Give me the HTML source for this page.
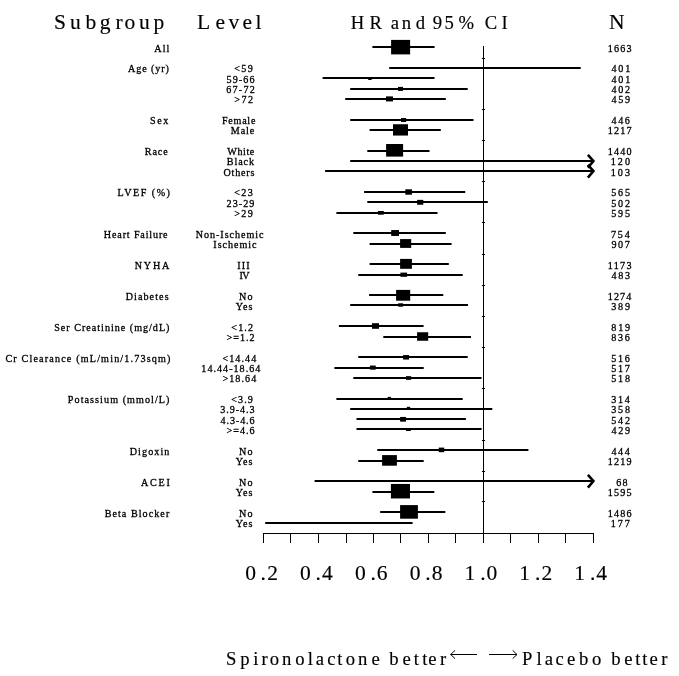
<!DOCTYPE html>
<html><head><meta charset="utf-8"><title>Forest plot</title>
<style>
html,body{margin:0;padding:0;background:#fff;}
body{width:679px;height:676px;overflow:hidden;}
svg text{stroke:#000;stroke-width:0.15px;}
svg text{white-space:pre;}
svg{display:block;will-change:transform;font-family:"Liberation Serif",serif;fill:#000;}
svg text.s{font-size:10.1px;stroke:#000;stroke-width:0.3px;}
.b{font-size:22px;letter-spacing:3.7px;}
.m{font-size:18px;letter-spacing:3.35px;}
.a{font-size:22px;letter-spacing:2.9px;}
</style></head><body>
<svg width="679" height="676" viewBox="0 0 679 676">
<rect width="679" height="676" fill="#fff"/>
<text font-size="21.5" x="54.02 70.02 85.48 99.72 115.45 124.62 139.12 153.52" y="29.1">Subgroup</text>
<text font-size="21.5" x="196.97 215.48 228.48 242.48 255.56" y="29.1">Level</text>
<text font-size="18.67" x="350.86 369.57 378.90 390.71 401.71 415.71 425.04 432.66 444.40 458.47 467.81 484.66 501.48" y="28.9">HR and 95% CI</text>
<text font-size="21.5" x="609.07" y="29.2">N</text>
<g stroke="#000" stroke-width="1" fill="none">
<line x1="483.5" y1="46" x2="483.5" y2="543"/>
<line x1="481.9" y1="58.5" x2="485.1" y2="58.5" stroke-width="1"/>
<line x1="481.9" y1="109.5" x2="485.1" y2="109.5" stroke-width="1"/>
<line x1="481.9" y1="140.5" x2="485.1" y2="140.5" stroke-width="1"/>
<line x1="481.9" y1="181.5" x2="485.1" y2="181.5" stroke-width="1"/>
<line x1="481.9" y1="222.5" x2="485.1" y2="222.5" stroke-width="1"/>
<line x1="481.9" y1="254.5" x2="485.1" y2="254.5" stroke-width="1"/>
<line x1="481.9" y1="285.5" x2="485.1" y2="285.5" stroke-width="1"/>
<line x1="481.9" y1="316.5" x2="485.1" y2="316.5" stroke-width="1"/>
<line x1="481.9" y1="347.5" x2="485.1" y2="347.5" stroke-width="1"/>
<line x1="481.9" y1="388.5" x2="485.1" y2="388.5" stroke-width="1"/>
<line x1="481.9" y1="440.5" x2="485.1" y2="440.5" stroke-width="1"/>
<line x1="481.9" y1="471.5" x2="485.1" y2="471.5" stroke-width="1"/>
<line x1="481.9" y1="501.5" x2="485.1" y2="501.5" stroke-width="1"/>
<line x1="263" y1="533.5" x2="594" y2="533.5"/>
<line x1="263.5" y1="533" x2="263.5" y2="543"/>
<line x1="290.5" y1="533" x2="290.5" y2="543"/>
<line x1="318.5" y1="533" x2="318.5" y2="543"/>
<line x1="346.5" y1="533" x2="346.5" y2="543"/>
<line x1="373.5" y1="533" x2="373.5" y2="543"/>
<line x1="400.5" y1="533" x2="400.5" y2="543"/>
<line x1="428.5" y1="533" x2="428.5" y2="543"/>
<line x1="455.5" y1="533" x2="455.5" y2="543"/>
<line x1="483.5" y1="533" x2="483.5" y2="543"/>
<line x1="510.5" y1="533" x2="510.5" y2="543"/>
<line x1="538.5" y1="533" x2="538.5" y2="543"/>
<line x1="565.5" y1="533" x2="565.5" y2="543"/>
<line x1="593.5" y1="533" x2="593.5" y2="543"/>
</g>
<g stroke="#000" stroke-width="2" fill="none">
<line x1="372.4" y1="47.0" x2="434.6" y2="47.0"/>
<line x1="389.2" y1="68.0" x2="580.7" y2="68.0"/>
<line x1="322.6" y1="78.0" x2="434.5" y2="78.0"/>
<line x1="350.2" y1="89.0" x2="467.7" y2="89.0"/>
<line x1="345.2" y1="99.0" x2="445.8" y2="99.0"/>
<line x1="350.2" y1="120.0" x2="473.5" y2="120.0"/>
<line x1="369.6" y1="130.0" x2="440.8" y2="130.0"/>
<line x1="367.3" y1="151.0" x2="429.5" y2="151.0"/>
<line x1="350.2" y1="161.0" x2="593.5" y2="161.0"/>
<polyline points="587.9,154.8 593.4,161.0 587.9,167.6" stroke-width="2.6" stroke-linejoin="miter"/>
<line x1="325.1" y1="171.0" x2="593.5" y2="171.0"/>
<polyline points="587.9,164.8 593.4,171.0 587.9,177.6" stroke-width="2.6" stroke-linejoin="miter"/>
<line x1="364.1" y1="192.0" x2="465.2" y2="192.0"/>
<line x1="367.3" y1="202.0" x2="487.8" y2="202.0"/>
<line x1="336.4" y1="213.0" x2="437.5" y2="213.0"/>
<line x1="353.3" y1="233.0" x2="445.8" y2="233.0"/>
<line x1="369.6" y1="244.0" x2="451.6" y2="244.0"/>
<line x1="369.6" y1="264.0" x2="448.8" y2="264.0"/>
<line x1="358.3" y1="275.0" x2="462.7" y2="275.0"/>
<line x1="369.1" y1="295.0" x2="443.3" y2="295.0"/>
<line x1="350.2" y1="305.0" x2="468.0" y2="305.0"/>
<line x1="338.9" y1="326.0" x2="423.6" y2="326.0"/>
<line x1="383.3" y1="337.0" x2="471.0" y2="337.0"/>
<line x1="358.3" y1="357.0" x2="467.7" y2="357.0"/>
<line x1="334.4" y1="368.0" x2="423.7" y2="368.0"/>
<line x1="353.3" y1="378.0" x2="481.5" y2="378.0"/>
<line x1="336.4" y1="399.0" x2="462.7" y2="399.0"/>
<line x1="350.2" y1="409.0" x2="492.3" y2="409.0"/>
<line x1="356.5" y1="419.0" x2="465.9" y2="419.0"/>
<line x1="356.5" y1="429.0" x2="481.6" y2="429.0"/>
<line x1="377.3" y1="450.0" x2="528.4" y2="450.0"/>
<line x1="358.3" y1="461.0" x2="423.7" y2="461.0"/>
<line x1="314.6" y1="481.0" x2="593.5" y2="481.0"/>
<polyline points="587.9,474.8 593.4,481.0 587.9,487.6" stroke-width="2.6" stroke-linejoin="miter"/>
<line x1="372.4" y1="492.0" x2="434.3" y2="492.0"/>
<line x1="380.2" y1="512.0" x2="445.3" y2="512.0"/>
<line x1="265.2" y1="523.0" x2="412.6" y2="523.0"/>
</g>
<rect x="391.10" y="39.90" width="19.00" height="14.50"/>
<rect x="368.15" y="77.00" width="3.50" height="3.00"/>
<rect x="398.00" y="86.90" width="5.00" height="4.00"/>
<rect x="386.00" y="96.40" width="7.00" height="5.00"/>
<rect x="401.10" y="118.00" width="5.00" height="4.00"/>
<rect x="393.00" y="124.25" width="15.00" height="11.30"/>
<rect x="386.10" y="144.00" width="17.00" height="12.60"/>
<rect x="405.30" y="189.30" width="6.60" height="5.40"/>
<rect x="417.10" y="199.85" width="6.20" height="4.90"/>
<rect x="377.90" y="211.00" width="5.90" height="3.70"/>
<rect x="391.20" y="230.05" width="7.80" height="5.90"/>
<rect x="400.10" y="239.10" width="11.10" height="8.80"/>
<rect x="400.10" y="258.90" width="11.80" height="9.90"/>
<rect x="400.40" y="272.60" width="6.70" height="4.20"/>
<rect x="396.10" y="289.90" width="14.10" height="10.80"/>
<rect x="398.20" y="303.30" width="4.90" height="3.40"/>
<rect x="372.00" y="323.20" width="7.00" height="5.60"/>
<rect x="417.10" y="332.25" width="11.10" height="8.50"/>
<rect x="403.10" y="355.05" width="5.90" height="4.50"/>
<rect x="369.90" y="365.55" width="5.80" height="4.10"/>
<rect x="406.00" y="376.15" width="5.20" height="3.70"/>
<rect x="387.65" y="396.90" width="3.40" height="3.00"/>
<rect x="406.80" y="406.80" width="3.40" height="3.00"/>
<rect x="400.10" y="416.95" width="5.90" height="4.70"/>
<rect x="406.00" y="428.00" width="4.80" height="3.00"/>
<rect x="438.75" y="447.60" width="5.50" height="4.60"/>
<rect x="382.10" y="455.10" width="14.80" height="10.60"/>
<rect x="390.90" y="483.95" width="19.10" height="14.50"/>
<rect x="400.10" y="505.10" width="17.80" height="13.60"/>
<text class="s" x="154.25" y="51.6" letter-spacing="1.11">All</text>
<text class="s" x="607.74" y="51.6" letter-spacing="1.20">1663</text>
<text class="s" x="128.05" y="72.3" letter-spacing="0.89">Age (yr)</text>
<text class="s" x="234.25" y="72.3" letter-spacing="1.43">&lt;59</text>
<text class="s" x="611.55" y="72.3" letter-spacing="1.75">401</text>
<text class="s" x="226.44" y="82.6" letter-spacing="1.16">59-66</text>
<text class="s" x="611.55" y="82.6" letter-spacing="1.75">401</text>
<text class="s" x="226.20" y="92.9" letter-spacing="1.29">67-72</text>
<text class="s" x="611.55" y="92.9" letter-spacing="1.73">402</text>
<text class="s" x="234.19" y="103.3" letter-spacing="1.53">&gt;72</text>
<text class="s" x="611.55" y="103.3" letter-spacing="1.65">459</text>
<text class="s" x="150.04" y="124.0" letter-spacing="1.60">Sex</text>
<text class="s" x="221.95" y="124.0" letter-spacing="0.75">Female</text>
<text class="s" x="611.55" y="124.0" letter-spacing="1.58">446</text>
<text class="s" x="230.75" y="134.3" letter-spacing="0.95">Male</text>
<text class="s" x="607.74" y="134.3" letter-spacing="1.17">1217</text>
<text class="s" x="144.85" y="155.0" letter-spacing="0.87">Race</text>
<text class="s" x="227.30" y="155.0" letter-spacing="0.59">White</text>
<text class="s" x="607.74" y="155.0" letter-spacing="1.20">1440</text>
<text class="s" x="226.75" y="165.3" letter-spacing="0.92">Black</text>
<text class="s" x="610.84" y="165.3" letter-spacing="1.98">120</text>
<text class="s" x="223.50" y="175.6" letter-spacing="0.79">Others</text>
<text class="s" x="610.84" y="175.6" letter-spacing="1.98">103</text>
<text class="s" x="117.45" y="196.3" letter-spacing="1.50">LVEF (%)</text>
<text class="s" x="234.25" y="196.3" letter-spacing="1.40">&lt;23</text>
<text class="s" x="611.14" y="196.3" letter-spacing="1.83">565</text>
<text class="s" x="226.60" y="206.7" letter-spacing="1.06">23-29</text>
<text class="s" x="611.14" y="206.7" letter-spacing="1.93">502</text>
<text class="s" x="234.19" y="217.0" letter-spacing="1.45">&gt;29</text>
<text class="s" x="611.14" y="217.0" letter-spacing="1.83">595</text>
<text class="s" x="103.85" y="237.7" letter-spacing="0.85">Heart Failure</text>
<text class="s" x="195.75" y="237.7" letter-spacing="0.97">Non-Ischemic</text>
<text class="s" x="611.04" y="237.7" letter-spacing="1.78">754</text>
<text class="s" x="213.35" y="248.0" letter-spacing="0.96">Ischemic</text>
<text class="s" x="611.40" y="248.0" letter-spacing="1.65">907</text>
<text class="s" x="134.75" y="268.7" letter-spacing="1.79">NYHA</text>
<text class="s" x="237.35" y="268.7" letter-spacing="1.05">III</text>
<text class="s" x="607.74" y="268.7" letter-spacing="1.32">1173</text>
<text class="s" x="239.55" y="279.0" letter-spacing="-0.65">IV</text>
<text class="s" x="611.55" y="279.0" letter-spacing="1.63">483</text>
<text class="s" x="125.65" y="299.7" letter-spacing="1.09">Diabetes</text>
<text class="s" x="238.95" y="299.7" letter-spacing="1.28">No</text>
<text class="s" x="607.74" y="299.7" letter-spacing="1.14">1274</text>
<text class="s" x="235.80" y="310.0" letter-spacing="1.03">Yes</text>
<text class="s" x="611.25" y="310.0" letter-spacing="1.80">389</text>
<text class="s" x="54.24" y="330.7" letter-spacing="1.00">Ser Creatinine (mg/dL)</text>
<text class="s" x="231.35" y="330.7" letter-spacing="1.13">&lt;1.2</text>
<text class="s" x="611.35" y="330.7" letter-spacing="1.75">819</text>
<text class="s" x="226.50" y="341.0" letter-spacing="1.01">&gt;=1.2</text>
<text class="s" x="611.35" y="341.0" letter-spacing="1.68">836</text>
<text class="s" x="5.40" y="361.7" letter-spacing="1.18">Cr Clearance (mL/min/1.73sqm)</text>
<text class="s" x="222.45" y="361.7" letter-spacing="1.09">&lt;14.44</text>
<text class="s" x="611.14" y="361.7" letter-spacing="1.78">516</text>
<text class="s" x="201.34" y="372.0" letter-spacing="1.02">14.44-18.64</text>
<text class="s" x="611.14" y="372.0" letter-spacing="1.78">517</text>
<text class="s" x="222.40" y="382.4" letter-spacing="1.10">&gt;18.64</text>
<text class="s" x="611.14" y="382.4" letter-spacing="1.83">518</text>
<text class="s" x="67.85" y="403.1" letter-spacing="1.08">Potassium (mmol/L)</text>
<text class="s" x="231.35" y="403.1" letter-spacing="1.08">&lt;3.9</text>
<text class="s" x="611.25" y="403.1" letter-spacing="1.68">314</text>
<text class="s" x="220.25" y="413.4" letter-spacing="0.96">3.9-4.3</text>
<text class="s" x="611.25" y="413.4" letter-spacing="1.78">358</text>
<text class="s" x="220.55" y="423.7" letter-spacing="0.90">4.3-4.6</text>
<text class="s" x="611.14" y="423.7" letter-spacing="1.93">542</text>
<text class="s" x="226.50" y="434.1" letter-spacing="1.00">&gt;=4.6</text>
<text class="s" x="611.55" y="434.1" letter-spacing="1.65">429</text>
<text class="s" x="129.75" y="454.7" letter-spacing="1.08">Digoxin</text>
<text class="s" x="238.95" y="454.7" letter-spacing="1.28">No</text>
<text class="s" x="611.55" y="454.7" letter-spacing="1.53">444</text>
<text class="s" x="235.80" y="465.1" letter-spacing="1.03">Yes</text>
<text class="s" x="607.74" y="465.1" letter-spacing="1.22">1219</text>
<text class="s" x="141.05" y="485.8" letter-spacing="1.74">ACEI</text>
<text class="s" x="238.95" y="485.8" letter-spacing="1.28">No</text>
<text class="s" x="616.20" y="485.8" letter-spacing="1.26">68</text>
<text class="s" x="235.80" y="496.1" letter-spacing="1.03">Yes</text>
<text class="s" x="607.74" y="496.1" letter-spacing="1.20">1595</text>
<text class="s" x="104.65" y="516.8" letter-spacing="1.06">Beta Blocker</text>
<text class="s" x="238.95" y="516.8" letter-spacing="1.28">No</text>
<text class="s" x="607.74" y="516.8" letter-spacing="1.17">1486</text>
<text class="s" x="235.80" y="527.1" letter-spacing="1.03">Yes</text>
<text class="s" x="610.84" y="527.1" letter-spacing="1.93">177</text>
<text font-size="21.5" x="245.22 260.61 267.35" y="579.6">0.2</text>
<text font-size="21.5" x="300.09 315.51 322.03" y="579.6">0.4</text>
<text font-size="21.5" x="354.96 370.41 376.78" y="579.6">0.6</text>
<text font-size="21.5" x="409.83 425.31 431.78" y="579.6">0.8</text>
<text font-size="21.5" x="464.41 480.21 486.62" y="579.6">1.0</text>
<text font-size="21.5" x="519.28 535.11 541.60" y="579.6">1.2</text>
<text font-size="21.5" x="574.15 590.01 596.28" y="579.6">1.4</text>
<text font-size="18.67" x="225.91 240.30 253.24 261.59 269.68 282.01 295.13 307.76 315.76 327.14 337.27 345.68 358.01 371.52 380.85 389.29 402.52 413.82 422.17 428.32 439.89" y="664.5">Spironolactone better</text>
<text font-size="18.67" x="521.96 536.51 544.66 555.49 566.92 578.94 591.88 601.22 611.24 624.32 635.32 642.17 649.57 661.24" y="664.5">Placebo better</text>
<g stroke="#000" stroke-width="1" fill="none">
<line x1="450.5" y1="654.5" x2="477" y2="654.5"/><polyline points="455,650.4 450.7,654.5 455,658.6"/>
<line x1="489" y1="654.5" x2="517" y2="654.5"/><polyline points="512.7,650.4 517,654.5 512.7,658.6"/>
</g>
</svg></body></html>
